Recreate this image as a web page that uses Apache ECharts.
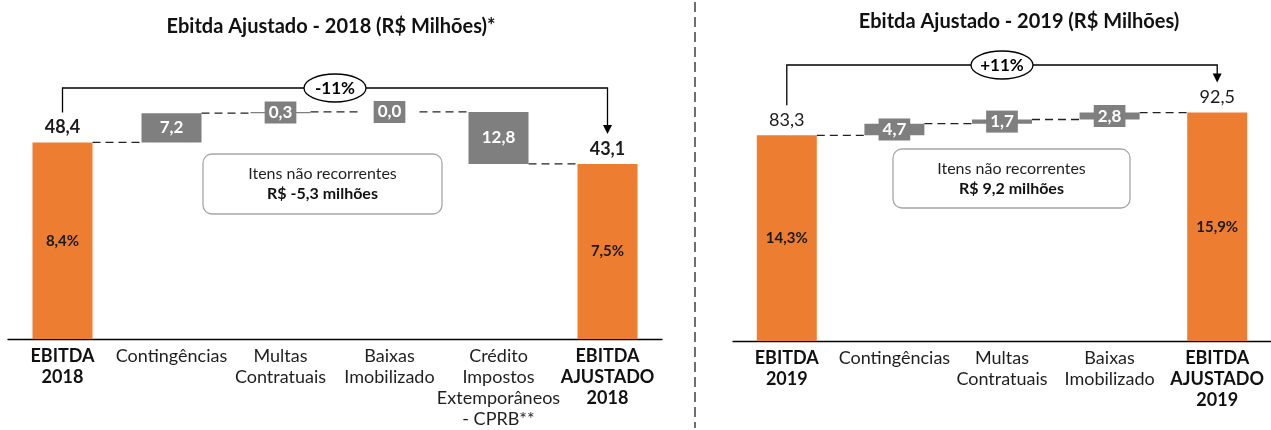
<!DOCTYPE html>
<html>
<head>
<meta charset="utf-8">
<script src="https://cdn.jsdelivr.net/npm/echarts@6/dist/echarts.min.js"></script>
<style>
  html, body { margin: 0; padding: 0; background: #fff; }
  #main { width: 1271px; height: 430px; }
</style>
</head>
<body>
<div id="main"></div>
<script>
// ---- dados ----
var cats2018 = ["EBITDA\n2018", "Contingências", "Multas\nContratuais", "Baixas\nImobilizado", "Crédito\nImpostos\nExtemporâneos\n- CPRB**", "EBITDA\nAJUSTADO\n2018"];
var start2018 = 48.4;
var deltas2018 = [7.2, 0.3, 0.0, -12.8];
var end2018 = 43.1;
var margin2018 = ["8,4%", "7,5%"];

var cats2019 = ["EBITDA\n2019", "Contingências", "Multas\nContratuais", "Baixas\nImobilizado", "EBITDA\nAJUSTADO\n2019"];
var start2019 = 83.3;
var deltas2019 = [4.7, 1.7, 2.8];
var end2019 = 92.5;
var margin2019 = ["14,3%", "15,9%"];

var change = ["-11%", "+11%"];
var notes = ["R$ -5,3 milhões", "R$ 9,2 milhões"];

var ORANGE = "#ED7D31";
var GRAY = "#7F7F7F";
var FONT = "Lato";
var BAR_W = 60;

function fmt(v) {
  return Math.abs(v).toFixed(1).replace(".", ",");
}

// monta as series de um waterfall
function buildWaterfall(idx, start, deltas, end, margins, boldTop, bracketY, changeTxt) {
  var n = deltas.length + 2;
  var base = ["-"], delta = ["-"], totals = [start];
  var links = [];
  var cum = start;
  links.push([0, cum, 1]);
  for (var i = 0; i < deltas.length; i++) {
    var next = cum + deltas[i];
    base.push(Math.min(cum, next));
    delta.push(Math.abs(deltas[i]));
    totals.push("-");
    cum = next;
    links.push([i + 1, cum, i + 2]);
  }
  base.push("-");
  delta.push("-");
  totals.push(end);

  var common = { xAxisIndex: idx, yAxisIndex: idx, barWidth: BAR_W, barGap: "-100%" };
  return [
    Object.assign({
      type: "bar", stack: "s" + idx, data: base, silent: true,
      itemStyle: { color: "transparent" }
    }, common),
    Object.assign({
      type: "bar", stack: "s" + idx, data: delta,
      itemStyle: { color: GRAY },
      label: {
        show: true, position: "inside",
        formatter: function (p) { return fmt(p.value); },
        color: "#fff", fontFamily: FONT, fontWeight: "bold", fontSize: 17,
        backgroundColor: GRAY, padding: [2, 4], lineHeight: 18
      }
    }, common),
    Object.assign({
      type: "bar", data: totals,
      itemStyle: { color: ORANGE },
      label: {
        show: true, position: "inside",
        formatter: function (p) { return p.dataIndex === 0 ? margins[0] : margins[1]; },
        color: "#1a1a1a", fontFamily: FONT, fontWeight: "bold", fontSize: 15
      }
    }, common),
    Object.assign({
      type: "bar", data: totals, silent: true,
      itemStyle: { color: "transparent" },
      label: {
        show: true, position: "top", distance: 6,
        formatter: function (p) { return fmt(p.value); },
        color: "#1a1a1a", fontFamily: FONT, fontWeight: boldTop ? "bold" : "normal", fontSize: 18
      }
    }, common),
    {
      type: "custom", xAxisIndex: idx, yAxisIndex: idx, data: links, z: 1, silent: true,
      renderItem: function (params, api) {
        var a = api.coord([api.value(0), api.value(1)]);
        var b = api.coord([api.value(2), api.value(1)]);
        return {
          type: "line",
          shape: { x1: a[0] + BAR_W / 2, y1: a[1], x2: b[0] - BAR_W / 2, y2: b[1] },
          style: { stroke: "#222", lineWidth: 1.3, lineDash: [8, 5] }
        };
      }
    },
    {
      type: "custom", xAxisIndex: idx, yAxisIndex: idx, data: [[0, start, n - 1, end]], silent: true, z: 5,
      renderItem: function (params, api) {
        var a = api.coord([api.value(0), api.value(1)]);
        var b = api.coord([api.value(2), api.value(3)]);
        var y0 = a[1] - 30, y1 = b[1] - 30;
        var cx = (a[0] + b[0]) / 2;
        return {
          type: "group",
          children: [
            { type: "polyline", shape: { points: [[a[0], y0], [a[0], bracketY], [b[0], bracketY], [b[0], y1 - 7]] },
              style: { stroke: "#000", lineWidth: 1.3, fill: "none" } },
            { type: "polygon", shape: { points: [[b[0] - 4.5, y1 - 9], [b[0] + 4.5, y1 - 9], [b[0], y1]] },
              style: { fill: "#000" } },
            { type: "ellipse", shape: { cx: cx, cy: bracketY, rx: 31, ry: 14 },
              style: { fill: "#fff", stroke: "#000", lineWidth: 1.3 } },
            { type: "text", style: { text: changeTxt, x: cx, y: bracketY + 1, align: "center", verticalAlign: "middle",
              fontFamily: FONT, fontWeight: "bold", fontSize: 17, fill: "#000" } }
          ]
        };
      }
    }
  ];
}

function catAxis(idx, cats) {
  return {
    type: "category", gridIndex: idx, data: cats,
    axisLine: { lineStyle: { color: "#000", width: 1.3 } },
    axisTick: { show: false },
    axisLabel: {
      interval: 0, margin: 7,
      formatter: function (v, i) {
        if (i === 0 || i === cats.length - 1) {
          return v.split("\n").map(function (s) { return "{b|" + s + "}"; }).join("\n");
        }
        return v;
      },
      color: "#1f1f1f", fontFamily: FONT, fontSize: 18, lineHeight: 21,
      rich: { b: { fontWeight: "bold", fontFamily: FONT, fontSize: 18, lineHeight: 21, color: "#111" } }
    }
  };
}

function noteBox(x, y, w, h, note) {
  return {
    type: "group", x: x, y: y,
    children: [
      { type: "rect", shape: { x: 0, y: 0, width: w, height: h, r: 9 },
        style: { fill: "#fff", stroke: "#a6a6a6", lineWidth: 1.3 } },
      { type: "text", style: {
          text: "{n|Itens não recorrentes}\n{b|" + note + "}",
          x: w / 2, y: h / 2, align: "center", verticalAlign: "middle",
          rich: {
            n: { fontFamily: FONT, fontSize: 16, lineHeight: 20, fill: "#1f1f1f", align: "center" },
            b: { fontFamily: FONT, fontSize: 16, fontWeight: "bold", lineHeight: 20, fill: "#111", align: "center" }
          }
        } }
    ]
  };
}

var option = {
  animation: false,
  grid: [
    { left: 8, top: 14, width: 654, height: 327 },
    { left: 733, top: 20, width: 545, height: 321 }
  ],
  xAxis: [catAxis(0, cats2018), catAxis(1, cats2019)],
  yAxis: [
    { type: "value", gridIndex: 0, min: 0, max: 80, show: false },
    { type: "value", gridIndex: 1, min: 0, max: 130, show: false }
  ],
  series: [].concat(
    buildWaterfall(0, start2018, deltas2018, end2018, margin2018, true, 88, change[0]),
    buildWaterfall(1, start2019, deltas2019, end2019, margin2019, false, 65, change[1])
  ),
  graphic: [
    { type: "text", style: { text: "Ebitda Ajustado - 2018 (R$ Milhões)*", x: 331, y: 27, align: "center", verticalAlign: "middle",
      fontFamily: FONT, fontWeight: "bold", fontSize: 20, fill: "#111" } },
    { type: "text", style: { text: "Ebitda Ajustado - 2019 (R$ Milhões)", x: 1019, y: 22, align: "center", verticalAlign: "middle",
      fontFamily: FONT, fontWeight: "bold", fontSize: 20, fill: "#111" } },
    { type: "line", shape: { x1: 695, y1: 2, x2: 695, y2: 428 },
      style: { stroke: "#222", lineWidth: 1.3, lineDash: [10, 5] } },
    noteBox(203, 154, 239, 60, notes[0]),
    noteBox(893, 149, 237, 59, notes[1])
  ]
};

var myChart = echarts.init(document.getElementById("main"));
myChart.setOption(option);
</script>
</body>
</html>
